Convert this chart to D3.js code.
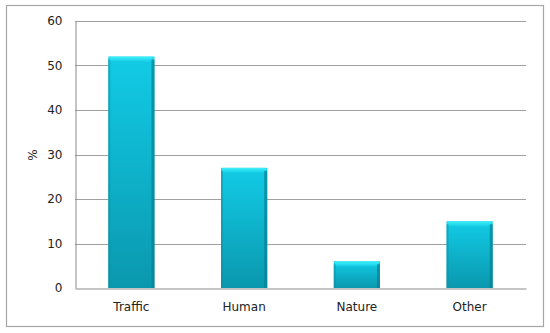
<!DOCTYPE html>
<html><head><meta charset="utf-8">
<script src="https://cdn.jsdelivr.net/npm/d3@7"></script>
<style>body{margin:0;background:#fff}svg{display:block}text{font-family:"DejaVu Sans",Verdana,sans-serif}</style>
</head><body><svg id="c" width="550" height="333"></svg>
<script>
const categories = ["Traffic", "Human", "Nature", "Other"];
const values = [52, 27, 6, 15];
const yTicks = [0, 10, 20, 30, 40, 50, 60];
const yLabel = "%";

const svg = d3.select("#c");
const m = {l: 75, r: 526, t: 21, b: 288};
svg.append("rect").attr("x", 6.5).attr("y", 5.5).attr("width", 537).attr("height", 321)
  .attr("fill", "#fff").attr("stroke", "#a6a6a6").attr("stroke-width", 1.2);

const x = d3.scaleBand().domain(categories).range([m.l, m.r]).paddingInner(0.59).paddingOuter(0.295);
const y = d3.scaleLinear().domain([0, 60]).range([m.b, m.t]);

const defs = svg.append("defs");
const g1 = defs.append("linearGradient").attr("id", "gv").attr("x1", 0).attr("y1", 0).attr("x2", 0).attr("y2", 1);
g1.append("stop").attr("offset", 0).attr("stop-color", "#12cbe6");
g1.append("stop").attr("offset", 1).attr("stop-color", "#0a98ae");
const g2 = defs.append("linearGradient").attr("id", "gt").attr("x1", 0).attr("y1", 0).attr("x2", 0).attr("y2", 1);
g2.append("stop").attr("offset", 0).attr("stop-color", "#3ff0fb");
g2.append("stop").attr("offset", 1).attr("stop-color", "#14cde6");

// grid
svg.append("g").selectAll("line").data(yTicks.filter(d => d > 0)).join("line")
  .attr("x1", m.l).attr("x2", m.r).attr("y1", d => Math.round(y(d)) + 0.5).attr("y2", d => Math.round(y(d)) + 0.5)
  .attr("stroke", "#a0a0a0").attr("stroke-width", 1);

// y axis
const ya = svg.append("g").attr("transform", `translate(${m.l + 0.5},0)`)
  .call(d3.axisLeft(y).tickValues(yTicks).tickSize(0).tickPadding(13));
ya.select(".domain").attr("stroke", "#8a8a8a");
ya.selectAll("text").attr("font-size", 12).attr("fill", "#222");

// bars
const bars = svg.append("g").selectAll("g").data(values).join("g");
bars.append("rect").attr("x", (d, i) => x(categories[i])).attr("y", d => y(d))
  .attr("width", x.bandwidth()).attr("height", d => y(0) - y(d)).attr("fill", "url(#gv)");
bars.append("rect").attr("x", (d, i) => x(categories[i]) + 1).attr("y", d => y(d))
  .attr("width", x.bandwidth() - 2).attr("height", 5).attr("fill", "url(#gt)");
bars.append("rect").attr("x", (d, i) => x(categories[i]) + x.bandwidth() - 3).attr("y", d => y(d) + 3)
  .attr("width", 3).attr("height", d => y(0) - y(d) - 3).attr("fill", "#087f93").attr("opacity", 0.7);
bars.append("rect").attr("x", (d, i) => x(categories[i])).attr("y", d => y(d) + 3)
  .attr("width", 2).attr("height", d => y(0) - y(d) - 3).attr("fill", "#0b8fa3").attr("opacity", 0.5);

// x axis
const xa = svg.append("g").attr("transform", `translate(0,${Math.round(y(0)) + 0.5})`)
  .call(d3.axisBottom(x).tickSize(0).tickPadding(14));
xa.select(".domain").attr("stroke", "#8a8a8a");
xa.selectAll("text").attr("font-size", 12).attr("fill", "#222");

svg.append("text").attr("transform", "translate(37,155) rotate(-90)").attr("text-anchor", "middle")
  .attr("font-size", 12).attr("fill", "#222").text(yLabel);
</script></body></html>
